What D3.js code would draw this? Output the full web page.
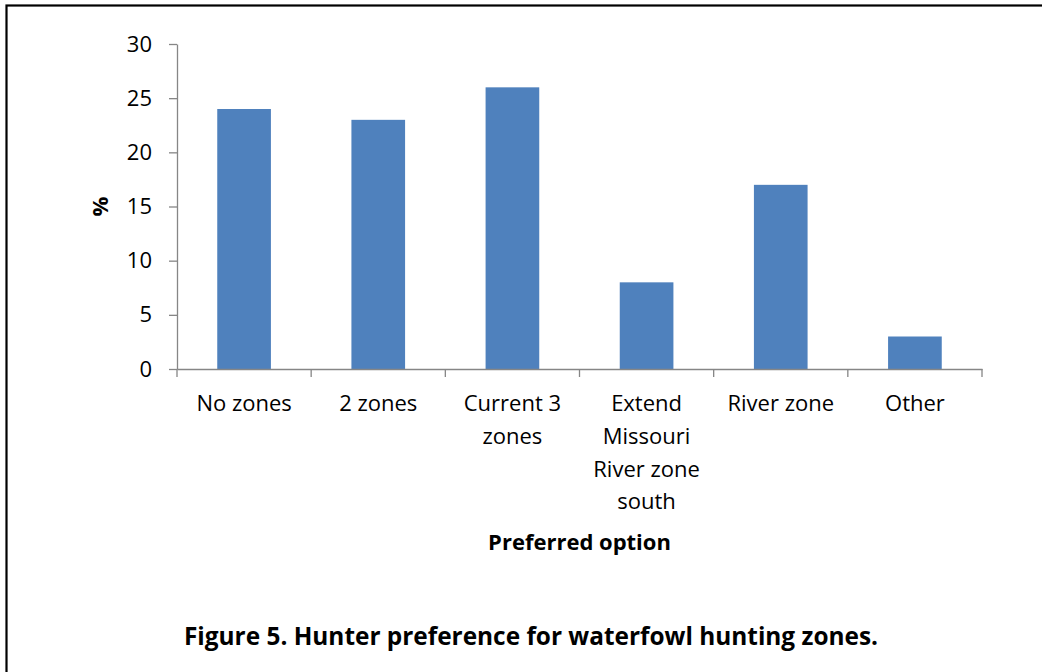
<!DOCTYPE html>
<html><head><meta charset="utf-8">
<script src="https://cdn.jsdelivr.net/npm/d3@7"></script>
<style>body{margin:0;background:#fff;} svg{display:block;}</style>
</head><body>
<svg id="chart" width="1042" height="672"></svg>
<script>
const categories = [["No zones"], ["2 zones"], ["Current 3", "zones"], ["Extend", "Missouri", "River zone", "south"], ["River zone"], ["Other"]];
const values = [24, 23, 26, 8, 17, 3];
const yTicks = [0, 5, 10, 15, 20, 25, 30];
const yTitle = "%";
const xTitle = "Preferred option";
const caption = "Figure 5. Hunter preference for waterfowl hunting zones.";

const svg = d3.select("#chart");
const font = "'Open Sans', 'Liberation Sans', sans-serif";
const mLeft = 177, mRight = 982, mTop = 44, mBottom = 369;

// frame
svg.append("rect").attr("x", 6.5).attr("y", 5.5).attr("width", 1100).attr("height", 800)
  .attr("fill", "none").attr("stroke", "#000").attr("stroke-width", 2.2);

const keys = categories.map((c, i) => i);
const x = d3.scaleBand().domain(keys).range([mLeft, mRight]).paddingInner(0.6).paddingOuter(0.3);
const xt = d3.scaleBand().domain(keys).range([mLeft, mRight]).padding(0);
const y = d3.scaleLinear().domain([0, 30]).range([mBottom, mTop]);

// bars
svg.append("g").selectAll("rect").data(values).join("rect")
  .attr("x", (d, i) => x(i)).attr("width", x.bandwidth())
  .attr("y", d => y(d)).attr("height", d => y(0) - y(d))
  .attr("fill", "#4F81BD");

// y axis
const yAxis = svg.append("g").attr("transform", `translate(${mLeft},0)`)
  .call(d3.axisLeft(y).tickValues(yTicks).tickSize(8).tickPadding(17).tickSizeOuter(0));
yAxis.select(".domain").attr("stroke", "#868686").attr("stroke-width", 1.3);
yAxis.selectAll(".tick line").attr("stroke", "#868686").attr("stroke-width", 1.3);
yAxis.selectAll(".tick text").attr("font-family", font).attr("font-size", 22).attr("fill", "#000");

// x axis
const xAxis = svg.append("g").attr("transform", `translate(0,${mBottom})`)
  .call(d3.axisBottom(xt).tickSize(0).tickFormat(""));
xAxis.select(".domain").attr("stroke", "#868686").attr("stroke-width", 1.3);
xAxis.selectAll(".tick").remove();
const boundaries = d3.range(keys.length + 1).map(i => mLeft + i * xt.step());
xAxis.selectAll("line.b").data(boundaries).join("line").attr("class", "b")
  .attr("x1", d => d).attr("x2", d => d).attr("y1", 0).attr("y2", 8)
  .attr("stroke", "#868686").attr("stroke-width", 1.3);

// category labels
const lab = svg.append("g").attr("font-family", font).attr("font-size", 22).attr("fill", "#000").attr("text-anchor", "middle");
categories.forEach((lines, i) => {
  const cx = xt(i) + xt.bandwidth() / 2;
  const t = lab.append("text").attr("x", cx).attr("y", 411);
  lines.forEach((l, j) => t.append("tspan").attr("x", cx).attr("dy", j === 0 ? 0 : 32.8).text(l));
});

// axis titles
svg.append("text").attr("transform", `translate(108,${(mTop + mBottom) / 2}) rotate(-90)`)
  .attr("text-anchor", "middle").attr("font-family", font).attr("font-weight", "bold").attr("font-size", 22).text(yTitle);
svg.append("text").attr("x", (mLeft + mRight) / 2).attr("y", 550).attr("text-anchor", "middle")
  .attr("font-family", font).attr("font-weight", "bold").attr("font-size", 22).text(xTitle);

// caption
svg.append("text").attr("x", 531).attr("y", 645).attr("text-anchor", "middle")
  .attr("font-family", font).attr("font-weight", "bold").attr("font-size", 24.4).text(caption);
</script>
</body></html>
